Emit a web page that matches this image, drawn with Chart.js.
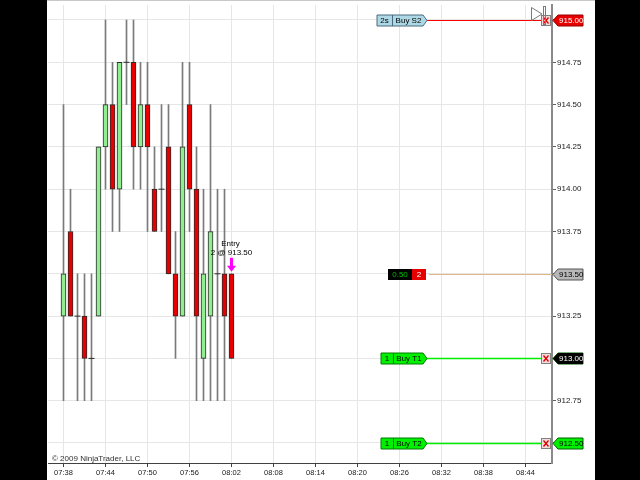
<!DOCTYPE html>
<html><head><meta charset="utf-8">
<script src="https://cdn.jsdelivr.net/npm/chart.js@4"></script>
<style>html,body{margin:0;padding:0;background:#000;}canvas{display:block;}</style>
</head><body>
<canvas id="c" width="640" height="480"></canvas>
<script>
// ---- data ----
const candleTimes = ['07:38','07:39','07:40','07:41','07:42','07:43','07:44','07:45','07:46','07:47','07:48','07:49','07:50','07:51','07:52','07:53','07:54','07:55','07:56','07:57','07:58','07:59','08:00','08:01','08:02'];
const opens  = [913.25,913.75,913.25,913.25,913.00,913.25,914.25,914.50,914.00,914.75,914.75,914.25,914.50,914.00,914.00,914.25,913.50,913.25,914.50,914.00,913.00,913.25,913.50,913.50,913.50];
const highs  = [914.50,914.00,913.50,913.50,913.50,914.25,915.00,914.75,914.75,915.00,915.00,914.75,914.75,914.25,914.50,914.50,913.75,914.75,914.75,914.25,914.00,914.50,914.00,914.00,913.50];
const lows   = [912.75,913.25,912.75,912.75,912.75,913.25,914.00,913.75,913.75,914.50,914.00,914.00,913.75,913.75,913.75,913.50,913.00,913.25,913.75,912.75,912.75,912.75,912.75,912.75,913.00];
const closes = [913.50,913.25,913.25,913.00,913.00,914.25,914.50,914.00,914.75,914.75,914.25,914.50,914.25,913.75,914.00,913.50,913.25,914.25,914.00,913.25,913.50,913.75,913.50,913.25,913.00];

const xTickLabels = ['07:38','07:44','07:50','07:56','08:02','08:08','08:14','08:20','08:26','08:32','08:38','08:44'];
const yTickValues = [912.50,912.75,913.00,913.25,913.50,913.75,914.00,914.25,914.50,914.75,915.00];

// orders: price, left text, right text, kind
const orderPrices = [915.00, 913.50, 913.00, 912.50];
const orderLeft   = ['2s', '0.50', '1', '1'];
const orderRight  = ['Buy S2', '2', 'Buy T1', 'Buy T2'];
const orderKinds  = ['stop', 'position', 'target', 'target'];

const entryTime = '08:02';
const entryPrice = 913.50;
const entryQty = 2;
const copyright = '\u00A9 2009 NinjaTrader, LLC';

// ---- helpers ----
const toMin = s => { const [h,m] = s.split(':').map(Number); return h*60+m; };
const fmtMin = v => { const h = Math.floor(v/60), m = Math.round(v - h*60); return String(h).padStart(2,'0')+':'+String(m).padStart(2,'0'); };
const tMin = candleTimes.map(toMin);
const xTickMin = xTickLabels.map(toMin);

const GREEN = '#90ee90', RED = '#e60000';
const FONT = '"Liberation Sans", Arial, sans-serif';

const wickData = tMin.map((t,i)=>({x:t, y:[lows[i], highs[i]]}));
const bodyData = tMin.map((t,i)=>({x:t, y:[opens[i], closes[i]]})).filter(d=>d.y[0]!==d.y[1]);
const dojiData = tMin.map((t,i)=>({x:t, y:opens[i]})).filter((d,i)=>opens[i]===closes[i]);

const styles = {
  stop:     {x0:377, xd:392, x1:423, fill:'#add8e6', stroke:'#4a6a80', text:'#000', line:'#ff0000', lw:1, xbox:true, tag:'#e60000', tagText:'#fff', tagStroke:'#900'},
  position: {x0:388, xd:412, x1:426, line:'#deb887', lw:1, xbox:false, tag:'#b8b8b8', tagText:'#000', tagStroke:'#555'},
  target:   {x0:381, xd:393, x1:423, fill:'#00f000', stroke:'#007a00', text:'#000', line:'#00ee00', lw:1.5, xbox:true, tag:'#00f000', tagText:'#000', tagStroke:'#006000'}
};

function tagShape(ctx, xTip, y, w){
  ctx.beginPath();
  ctx.moveTo(xTip, y);
  ctx.lineTo(xTip+5, y-5.5);
  ctx.lineTo(xTip+w, y-5.5);
  ctx.lineTo(xTip+w, y+5.5);
  ctx.lineTo(xTip+5, y+5.5);
  ctx.closePath();
}

const overlay = {
  id:'overlay',
  beforeDraw(chart){
    const ctx = chart.ctx;
    ctx.save();
    ctx.fillStyle = '#000'; ctx.fillRect(0,0,640,480);
    ctx.fillStyle = '#fff'; ctx.fillRect(47,0,548,480);
    ctx.restore();
  },
  afterDraw(chart){
    const ctx = chart.ctx, ys = chart.scales.y, xs = chart.scales.x;
    const ca = chart.chartArea;
    ctx.save();
    ctx.strokeStyle = '#c8c8c8'; ctx.lineWidth = 1;
    ctx.beginPath(); ctx.moveTo(47,0.5); ctx.lineTo(595,0.5); ctx.stroke();

    ctx.font = '8px '+FONT; ctx.fillStyle = '#303030'; ctx.textAlign='left'; ctx.textBaseline='alphabetic';
    ctx.fillText(copyright, ca.left+4, ca.bottom-2);

    orderPrices.forEach((p,i)=>{
      const st = styles[orderKinds[i]];
      const y = Math.round(ys.getPixelForValue(p))+0.5;
      ctx.strokeStyle = st.line; ctx.lineWidth = st.lw;
      ctx.beginPath(); ctx.moveTo(st.x1+3, y); ctx.lineTo(st.xbox ? 541 : ca.right, y); ctx.stroke();
      ctx.lineWidth = 1;
      if (orderKinds[i]==='position'){
        ctx.fillStyle = '#000'; ctx.fillRect(st.x0, y-5.5, st.xd-st.x0, 11);
        ctx.fillStyle = '#e60000'; ctx.fillRect(st.xd, y-5.5, st.x1-st.xd, 11);
        ctx.font = '8px '+FONT; ctx.textBaseline='middle'; ctx.textAlign='center';
        ctx.fillStyle = '#00c000'; ctx.fillText(orderLeft[i], (st.x0+st.xd)/2, y+0.5);
        ctx.fillStyle = '#fff'; ctx.fillText(orderRight[i], (st.xd+st.x1)/2, y+0.5);
      } else {
        ctx.beginPath();
        ctx.moveTo(st.x0, y-5.5); ctx.lineTo(st.x1, y-5.5); ctx.lineTo(st.x1+4, y); ctx.lineTo(st.x1, y+5.5); ctx.lineTo(st.x0, y+5.5); ctx.closePath();
        ctx.fillStyle = st.fill; ctx.fill(); ctx.strokeStyle = st.stroke; ctx.stroke();
        ctx.beginPath(); ctx.moveTo(st.xd+0.5, y-5.5); ctx.lineTo(st.xd+0.5, y+5.5); ctx.stroke();
        ctx.font = '8px '+FONT; ctx.textBaseline='middle'; ctx.textAlign='center';
        ctx.fillStyle = st.text;
        ctx.fillText(orderLeft[i], (st.x0+st.xd)/2, y+0.5);
        ctx.fillText(orderRight[i], (st.xd+st.x1)/2+1, y+0.5);
      }
      if (st.xbox){
        ctx.fillStyle = '#f4dada'; ctx.fillRect(541.5, y-5, 9, 10);
        ctx.strokeStyle = '#808080'; ctx.lineWidth=1; ctx.strokeRect(541.5, y-5, 9, 10);
        ctx.strokeStyle = '#e00000'; ctx.lineWidth=1.3;
        ctx.beginPath(); ctx.moveTo(543.5,y-3); ctx.lineTo(548.5,y+3); ctx.moveTo(548.5,y-3); ctx.lineTo(543.5,y+3); ctx.stroke();
      }
      ctx.lineWidth = 1;
      tagShape(ctx, ca.right+1, y, 30);
      ctx.fillStyle = st.tag; ctx.fill(); ctx.strokeStyle = st.tagStroke; ctx.stroke();
      ctx.fillStyle = st.tagText; ctx.font = '8px '+FONT; ctx.textAlign='left'; ctx.textBaseline='middle';
      ctx.fillText(p.toFixed(2), ca.right+7, y+0.5);
    });

    const last = closes[closes.length-1];
    const yl = Math.round(ys.getPixelForValue(last))+0.5;
    tagShape(ctx, ca.right+1, yl, 30);
    ctx.fillStyle = '#000'; ctx.fill();
    ctx.fillStyle = '#fff'; ctx.font = '8px '+FONT; ctx.textAlign='left'; ctx.textBaseline='middle';
    ctx.fillText(last.toFixed(2), ca.right+7, yl+0.5);

    ctx.strokeStyle = '#7a7a7a'; ctx.lineWidth = 1;
    ctx.beginPath(); ctx.moveTo(531.5,7.5); ctx.lineTo(542,14); ctx.lineTo(531.5,20.5); ctx.closePath(); ctx.stroke();
    ctx.strokeRect(543.5,6.5,2,18);

    const ex = xs.getPixelForValue(toMin(entryTime));
    const ey = ys.getPixelForValue(entryPrice);
    ctx.fillStyle = '#ff00ff';
    ctx.fillRect(ex-1.5, ey-16, 3, 9);
    ctx.beginPath(); ctx.moveTo(ex-4.5, ey-8); ctx.lineTo(ex+4.5, ey-8); ctx.lineTo(ex, ey-2); ctx.closePath(); ctx.fill();
    ctx.fillStyle = '#000'; ctx.font = '8px '+FONT; ctx.textAlign='center'; ctx.textBaseline='middle';
    ctx.fillText(entryQty+' @ '+entryPrice.toFixed(2), ex, ey-21);
    ctx.fillText('Entry', ex-1, ey-30);
    ctx.restore();
  }
};

new Chart(document.getElementById('c'), {
  type:'bar',
  data:{ datasets:[
    {label:'wick', data:wickData, backgroundColor:'#7a7a7a', borderWidth:0, barThickness:1, grouped:false, order:3},
    {label:'body', data:bodyData, backgroundColor:c=>{const r=c.raw; return r && r.y[1]>=r.y[0] ? GREEN : RED;}, borderColor:'#2a2a2a', borderWidth:1, borderSkipped:false, barThickness:5, grouped:false, order:2},
    {type:'line', label:'doji', data:dojiData, showLine:false, pointStyle:'line', pointRadius:3, borderColor:'#2a2a2a', borderWidth:1, order:1}
  ]},
  options:{
    responsive:false, animation:false, events:[],
    layout:{padding:{left:48, right:45, top:2, bottom:0}},
    plugins:{legend:{display:false}, tooltip:{enabled:false}},
    scales:{
      x:{type:'linear', offset:false, min:458-15.5/7, max:458-15.5/7+72,
        afterBuildTicks:s=>{s.ticks = xTickMin.map(v=>({value:v}));},
        afterFit:s=>{s.height=17; s.paddingLeft=0; s.paddingRight=0;},
        ticks:{callback:v=>fmtMin(v), autoSkip:false, maxRotation:0, padding:1, color:'#202020', font:{family:FONT, size:7.5}},
        grid:{color:'#e6e6e6', tickLength:4, tickColor:'#404040', offset:false},
        border:{color:'#404040', width:1}
      },
      y:{type:'linear', position:'right', min:912.5-20/169.2, max:915+15/169.2,
        afterBuildTicks:s=>{s.ticks = yTickValues.map(v=>({value:v}));},
        afterFit:s=>{s.width=43; s.paddingTop=0; s.paddingBottom=0;},
        ticks:{callback:v=>v.toFixed(2), padding:1, color:'#202020', font:{family:FONT, size:8}},
        grid:{color:'#e6e6e6', tickLength:4, tickColor:'#606060'},
        border:{color:'#8a8a8a', width:2}
      }
    }
  },
  plugins:[overlay]
});
</script>
</body></html>
